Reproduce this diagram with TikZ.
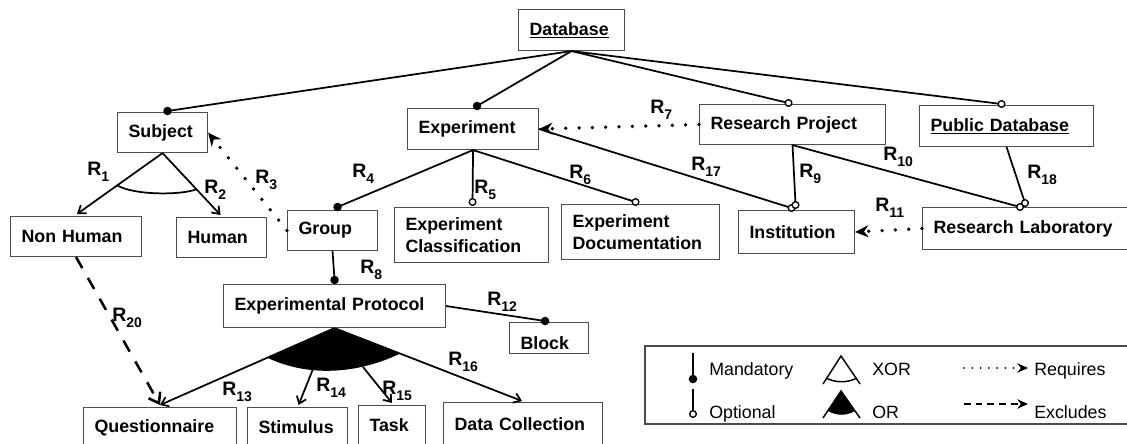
\documentclass[tikz,border=0pt]{standalone}
\usepackage{fontspec}
\setmainfont{Liberation Sans}
\usetikzlibrary{calc}
\usetikzlibrary{arrows.meta}

\newdimen\pix \pix=0.75pt
\newcommand{\boxfont}{\fontsize{13.35}{16.5}\selectfont\bfseries}
\newcommand{\relfont}{\fontsize{14.6}{17}\selectfont\bfseries}
\newcommand{\legfont}{\fontsize{13.35}{16}\selectfont}
\newcommand{\Rsub}[1]{R\raisebox{-5.2pt}{\fontsize{10.5}{12}\selectfont #1}}

\tikzset{
  ftr/.style 2 args={draw=black!70, line width=0.8pt, anchor=north west, inner xsep=11\pix, inner ysep=0pt,
    text width={#1\pix-22\pix}, minimum height=#2\pix, align=left, font=\boxfont},
  link/.style={line width=1.3pt},
  mand/.style={circle, fill, inner sep=0pt, minimum size=6.4pt},
  opt/.style={circle, draw, fill=white, line width=1pt, inner sep=0pt, minimum size=5pt},
  feat/.style={-{Straight Barb[length=5pt,width=7.5pt]}},
  req/.style={dash pattern=on 0pt off 10pt, line cap=round, line width=2.8pt, -{Stealth[length=10pt,width=9pt]}},
  excl/.style={dash pattern=on 9.5pt off 8.5pt, line width=1.9pt, -{Straight Barb[length=7pt,width=10pt]}},
  rlab/.style={anchor=base west, inner sep=0pt, font=\relfont},
  leg/.style={line width=1.1pt},
  legtxt/.style={anchor=base west, inner sep=0pt, font=\legfont}
}

\begin{document}
\begin{tikzpicture}[x=0.75pt, y=-0.75pt]
\useasboundingbox (0,0) rectangle (1127,443);

% features
\node[ftr={106}{41}] (db) at (518,9) {\underline{Database}};
\node[ftr={90}{40}] (subj) at (117,112) {Subject};
\node[ftr={131}{41}] (exp) at (407,108) {Experiment};
\node[ftr={186}{40}] (rproj) at (699,104) {Research Project};
\node[ftr={174}{41}] (pubdb) at (919,105) {\underline{Public Database}};
\node[ftr={131}{40}] (nonh) at (10,216) {Non Human};
\node[ftr={90}{40}] (human) at (176,217) {Human};
\node[ftr={90}{40}] (group) at (287,210) {Group};
\node[ftr={154}{55}] (expcls) at (394,207) {Experiment\\Classification};
\node[ftr={158}{55}] (expdoc) at (561,204) {Experiment\\Documentation};
\node[ftr={116}{43}] (inst) at (738,210) {Institution};
\node[ftr={215}{42}] (rlab) at (922,207) {Research Laboratory};
\node[ftr={222}{43}] (expprot) at (223,284) {Experimental Protocol};
\node[ftr={79}{31}, text height=18pt] (block) at (509,322) {Block};
\node[ftr={153}{40}] (quest) at (83,407) {Questionnaire};
\node[ftr={100}{40}] (stim) at (247,407) {Stimulus};
\node[ftr={67}{40}] (task) at (358,405) {Task};
\node[ftr={159}{44}] (datacol) at (443,402) {Data Collection};

% database
\draw[link] (db.south) -- ($(subj.north)+(5,-1)$) node[mand] (m1) {};
\draw[link] (db.south) -- ($(exp.north)+(4,-2)$) node[mand] (m2) {};
\draw[link] (db.south) -- ($(rproj.north)+(-4,-1)$) node[opt] (o1) {};
\draw[link] (db.south) -- ($(pubdb.north)+(-5,-1)$) node[opt] (o2) {};

% subject, xor
\coordinate (ntip) at ($(nonh.north)+(1,-2)$);
\coordinate (htip) at ($(human.north)+(-1,-2)$);
\draw[link,feat] (subj.south) -- (ntip);
\draw[link,feat] (subj.south) -- (htip);
\coordinate (xl) at ($(subj.south)!0.53!(ntip)$);
\coordinate (xr) at ($(subj.south)!0.585!(htip)$);
\draw[link] (xl) .. controls +(17,10) and +(-16,6) .. (xr);
\draw[req] (group.west) -- (subj.east);

% experiment
\draw[link] (exp.south) -- ($(group.north)+(5,-3)$) node[mand] (m3) {};
\draw[link] (exp.south) -- ($(expcls.north)+(1,-5)$) node[opt] (o3) {};
\draw[link] (exp.south) -- ($(expdoc.north)+(-5,-2)$) node[opt] (o4) {};
\draw[req] (rproj.west) -- (exp.east);
\draw[link] (exp.east) -- ($(inst.north)+(-5,-2)$) node[opt] (o5) {};
\draw[link] (rproj.south) -- ($(inst.north)+(-1,-5)$) node[opt] (o6) {};
\draw[link] (rproj.south) -- ($(rlab.north west)+(98,0)$) node[opt] (o7) {};
\draw[link] (pubdb.south) -- ($(rlab.north west)+(103,-4)$) node[opt] (o8) {};
\draw[req] (rlab.west) -- (inst.east);

% protocol, or
\draw[link] (group.south) -- ($(expprot.north)+(0,-4)$) node[mand] (m4) {};
\draw[link] (expprot.east) -- ($(block.north)+(-4,-1)$) node[mand] (m5) {};
\coordinate (qtip) at ($(quest.north)+(0,-2)$);
\coordinate (dtip) at ($(datacol.north)+(-1,-1)$);
\coordinate (orl) at ($(expprot.south)!0.385!(qtip)$);
\coordinate (orr) at ($(expprot.south)!0.35!(dtip)$);
\fill (expprot.south) -- (orl) .. controls +(42,20) and +(-42,20) .. (orr) -- cycle;
\draw[link,feat] (expprot.south) -- (qtip);
\draw[link,feat] (expprot.south) -- (dtip);
\coordinate (or14) at (313,369);
\coordinate (or15) at (363,367);
\draw[link,feat] (or14) -- ($(stim.north)+(1,-2)$);
\draw[link,feat] (or15) -- ($(task.north)+(0,-2)$);
\draw[excl] (nonh.south) -- (qtip);

% relation labels
\foreach \n/\x/\y in {1/87/175, 2/204/193, 3/255/183, 4/352/177, 5/474/193, 6/569/178,
  7/650/113, 8/360/273, 9/799/177, 10/883/160, 11/875/211, 12/487/305, 13/222/395,
  14/316/391, 15/382/394, 16/448/365, 17/691/170, 18/1027/178, 20/112/321}
  \node[rlab] (r\n) at (\x,\y) {\Rsub{\n}};

% legend
\draw[draw=black!70, line width=0.8pt] (645,346) rectangle (1140,424);
\draw[leg] (693,353) -- (693,379) node[mand] (lm) {};
\node[opt] (lo) at (693,414) {};
\draw[leg] (693,389) -- (lo.north);
\node[legtxt] (tm) at (709,375) {Mandatory};
\node[legtxt] (to) at (709,418) {Optional};
\draw[leg] (823,384) -- (841,356) -- (860,384);
\draw[leg] (826,378) .. controls (836,383) and (847,383) .. (857,378);
\draw[leg] (823,418) -- (841,391) -- (860,418);
\fill (841,391) -- (828,411) .. controls (837,416) and (846,416) .. (855,411) -- cycle;
\node[legtxt] (tx) at (872,375) {XOR};
\node[legtxt] (tor) at (872,418) {OR};
\coordinate (rq0) at (964,368);
\coordinate (rq1) at (1028,368);
\draw[dash pattern=on 0pt off 6.2pt, line cap=round, line width=1.5pt, -{Stealth[length=8pt,width=7pt]}] (rq0) -- (rq1);
\coordinate (ex0) at (964,404);
\coordinate (ex1) at (1028,404);
\draw[dash pattern=on 5pt off 3.8pt, line width=1.4pt, -{Stealth[length=8pt,width=7pt]}] (ex0) -- (ex1);
\node[legtxt] (trq) at (1034,375) {Requires};
\node[legtxt] (tex) at (1034,418) {Excludes};
\end{tikzpicture}
\end{document}
